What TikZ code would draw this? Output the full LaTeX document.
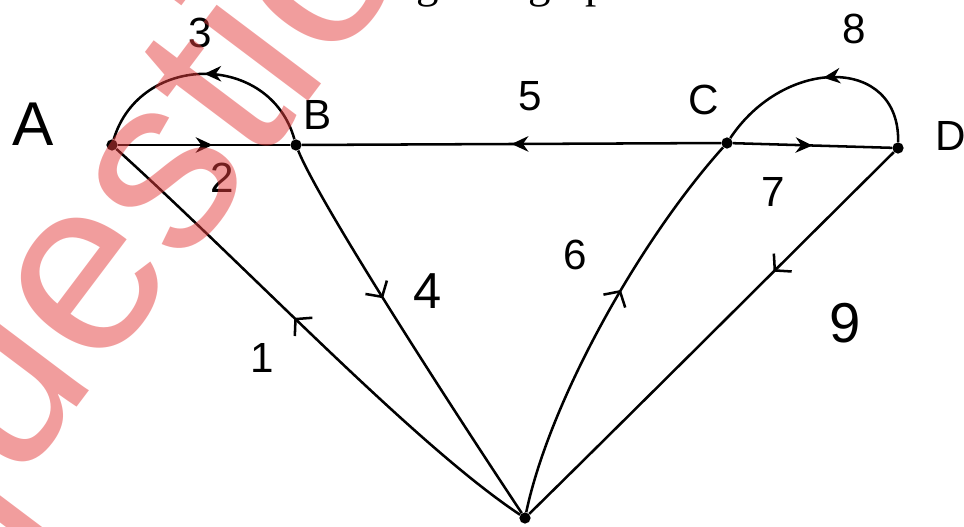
\documentclass[tikz,border=0pt]{standalone}
\usepackage{fontspec}
\setmainfont{Liberation Serif}
\newfontfamily\handfont{Liberation Sans}
\usetikzlibrary{arrows.meta,decorations.markings}
\definecolor{wmred}{RGB}{228,60,60}

\tikzset{
    vert/.style={circle,fill=black,inner sep=0pt,minimum size=8pt},
    lbl/.style={font=\handfont\fontsize{30}{36}\selectfont,inner sep=0pt},
    gline/.style={line width=1.8pt},
    midarr/.style={postaction={decorate},decoration={markings,
        mark=at position #1 with {\arrow{Stealth[length=12pt,width=11pt]}}}},
    midbarb/.style={postaction={decorate},decoration={markings,
        mark=at position #1 with {\arrow[line width=1.8pt]{Straight Barb[length=8pt,width=18pt]}}}},
}

\begin{document}
\begin{tikzpicture}[x=0.025cm,y=-0.025cm]
\useasboundingbox (0,0) rectangle (964,526);

% vertices
\node[vert] (A) at (112,145) {};
\node[vert] (B) at (296,145) {};
\node[vert] (C) at (727,143) {};
\node[vert] (D) at (898,148) {};
\node[vert] (E) at (525,518) {};

% vertex names
\node[lbl,font=\handfont\fontsize{44}{48}\selectfont] (nA) at (33,124) {A};
\node[lbl] (nB) at (318,115) {B};
\node[lbl] (nC) at (704,100) {C};
\node[lbl,anchor=west] (nD) at (935,136) {D};

% straight edges
\foreach \a/\b/\p in {A/B/0.55,C/B/0.5,C/D/0.5}
    \draw[gline,midarr=\p] (\a) -- (\b);

% loops over the top
\draw[gline,midarr=0.5] (B) .. controls (270,52) and (140,52) .. (A);
\draw[gline,midarr=0.5] (D) .. controls (900,56) and (785,56) .. (C);

% edges to the bottom vertex
\draw[gline,midbarb=0.55] (E) .. controls (415,445) and (250,270) .. (A);
\draw[gline,midbarb=0.4] (B) .. controls (318,200) and (440,390) .. (E);
\draw[gline,midbarb=0.58] (E) .. controls (550,400) and (640,240) .. (C);
\draw[gline,midbarb=0.33] (D) .. controls (775,270) and (640,405) .. (E);

% edge numbers
\node[lbl] (w1) at (262,358) {1};
\node[lbl] (w2) at (222,178) {2};
\node[lbl] (w3) at (200,33) {3};
\node[lbl,font=\handfont\fontsize{36}{40}\selectfont] (w4) at (428,291) {4};
\node[lbl] (w5) at (530,96) {5};
\node[lbl] (w6) at (575,255) {6};
\node[lbl] (w7) at (773,192) {7};
\node[lbl] (w8) at (854,29) {8};
\node[lbl,font=\handfont\fontsize{40}{44}\selectfont] (w9) at (845,323) {9};

% cut-off caption line
\node[anchor=base east,font=\fontsize{32}{36}\selectfont,inner sep=0pt] (cap) at (642,-2) {given graph.};

% watermark
\node[anchor=base west,rotate=53,font=\handfont\fontsize{176}{176}\selectfont,
      text=wmred,text opacity=0.5,inner sep=0pt] (wm) at (-66,598) {question};
\end{tikzpicture}
\end{document}
